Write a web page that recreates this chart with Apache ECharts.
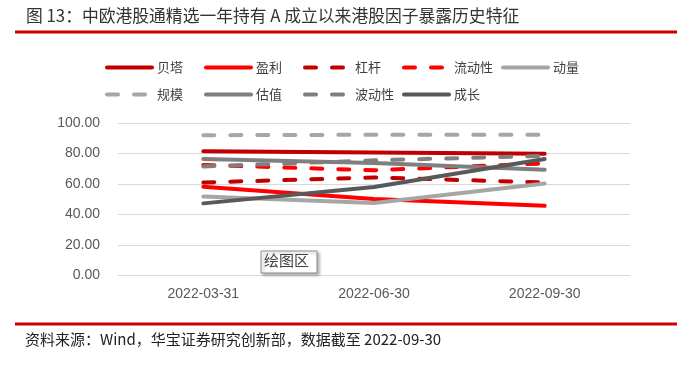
<!DOCTYPE html>
<html><head><meta charset="utf-8">
<script src="https://cdn.jsdelivr.net/npm/echarts@6/dist/echarts.min.js"></script>
<style>html,body{margin:0;padding:0;background:#fff}#c{width:700px;height:365px}</style>
</head><body><div id="c"></div>
<script>
const categories = ['2022-03-31', '2022-06-30', '2022-09-30'];
const names = ['贝塔', '盈利', '杠杆', '流动性', '动量', '规模', '估值', '波动性', '成长'];
const beta = [81.4, 80.7, 79.9];
const profit = [58.2, 50.2, 45.7];
const leverage = [61.0, 64.3, 61.0];
const liquidity = [72.5, 69.0, 73.5];
const momentum = [51.8, 47.5, 60.4];
const size = [92.0, 92.3, 92.3];
const valuation = [76.4, 73.8, 69.4];
const volatility = [71.5, 75.5, 78.5];
const growth = [47.3, 58.0, 76.4];
const yTicks = [0, 20, 40, 60, 80, 100];

const values = [beta, profit, leverage, liquidity, momentum, size, valuation, volatility, growth];
const colors = ['#C00000', '#FF0000', '#C00000', '#FF0000', '#A6A6A6', '#A6A6A6', '#7F7F7F', '#7F7F7F', '#595959'];
const dashed = [false, false, true, true, false, true, false, true, false];

const series = names.map((n, i) => ({
  name: n, type: 'line', data: values[i], symbol: 'none', smooth: false,
  color: colors[i],
  lineStyle: { color: colors[i], width: 4, type: dashed[i] ? [11, 16] : 'solid', cap: 'round' },
  z: 2 + i
}));

const legX = [100, 199, 298, 397, 496];
const legY = [56, 83];
const legends = names.map((n, i) => ({
  data: [n], left: legX[i % 5], top: legY[Math.floor(i / 5)],
  itemWidth: 45, itemHeight: 14, itemGap: 5,
  itemStyle: { opacity: 0 },
  lineStyle: { width: 4, cap: 'round' },
  textStyle: { fontSize: 13, color: '#404040', fontFamily: 'Noto Sans CJK SC' }
}));

const chart = echarts.init(document.getElementById('c'), null, { renderer: 'canvas' });
chart.setOption({
  animation: false,
  backgroundColor: '#fff',
  grid: { left: 118, right: 70, top: 123, bottom: 89.5, containLabel: false },
  legend: legends,
  xAxis: {
    type: 'category', data: categories, boundaryGap: true,
    axisLine: { show: true, lineStyle: { color: '#D9D9D9', width: 1 } },
    axisTick: { show: false },
    axisLabel: { fontSize: 14, color: '#595959', fontFamily: 'Liberation Sans', margin: 12 }
  },
  yAxis: {
    type: 'value', min: yTicks[0], max: yTicks[yTicks.length - 1], interval: 20,
    axisLine: { show: false }, axisTick: { show: false },
    splitLine: { lineStyle: { color: '#D9D9D9', width: 1 } },
    axisLabel: { fontSize: 14, color: '#595959', fontFamily: 'Liberation Sans', margin: 18,
      formatter: v => v.toFixed(2) }
  },
  series: series,
  graphic: [
    { type: 'text', left: 26, top: 7, style: { text: '图 13：中欧港股通精选一年持有 A 成立以来港股因子暴露历史特征', fontSize: 16.8, fill: '#333', fontFamily: 'Noto Sans CJK SC' } },
    { type: 'rect', shape: { x: 15, y: 30.5, width: 662, height: 3 }, style: { fill: '#CC0000' } },
    { type: 'rect', shape: { x: 15, y: 322.5, width: 662, height: 3 }, style: { fill: '#CC0000' } },
    { type: 'text', left: 25, top: 332, style: { text: '资料来源：Wind，华宝证券研究创新部，数据截至 2022-09-30', fontSize: 15, fill: '#222', fontFamily: 'Noto Sans CJK SC' } },
    { type: 'rect', z: 50, shape: { x: 261, y: 251, width: 56, height: 22 },
      style: { fill: '#fff', stroke: '#8C8C8C', lineWidth: 1, shadowBlur: 3, shadowOffsetX: 2, shadowOffsetY: 2, shadowColor: 'rgba(0,0,0,0.3)' } },
    { type: 'text', z: 51, left: 264, top: 253, style: { text: '绘图区', fontSize: 15, fill: '#404040', fontFamily: 'Noto Sans CJK SC' } }
  ]
});
</script></body></html>
